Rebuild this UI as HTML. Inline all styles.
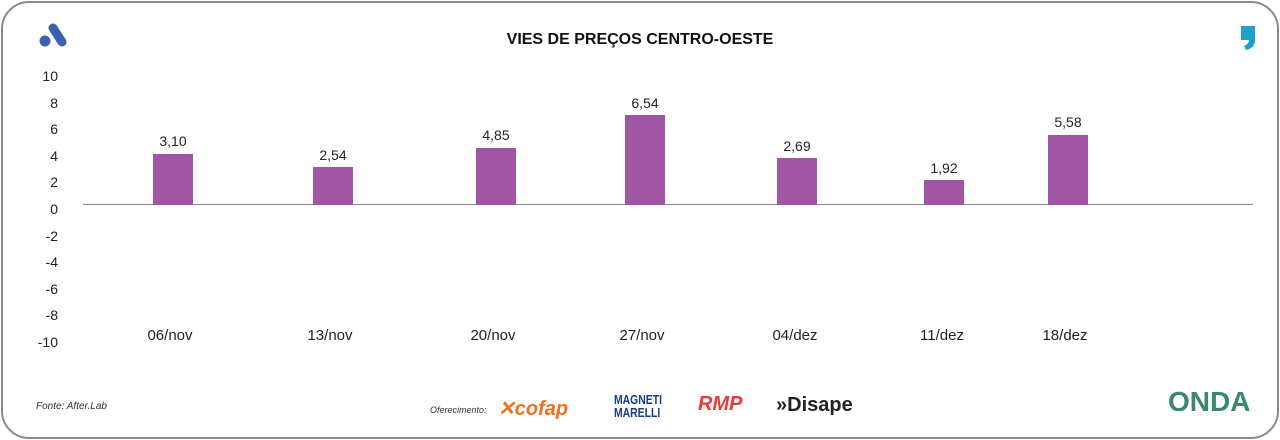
<!DOCTYPE html>
<html><head><meta charset="utf-8"><style>
body{margin:0;width:1280px;height:440px;background:#fff;font-family:"Liberation Sans",sans-serif;overflow:hidden}
.frame{position:absolute;left:1px;top:1px;width:1274px;height:434px;border:2px solid #8a8a8a;border-radius:28px}
.t{position:absolute;white-space:nowrap}
.yl{position:absolute;width:30px;text-align:right;left:28px;font-size:14px;color:#222}
.bar{position:absolute;width:40px;background:#a056a4}
.v{position:absolute;width:80px;text-align:center;font-size:14px;color:#222}
.x{position:absolute;width:100px;text-align:center;font-size:15px;color:#222;top:327px}
</style></head><body>
<div class="frame"></div>
<svg class="t" style="left:36px;top:20px" width="32" height="32"><line x1="17" y1="8" x2="26" y2="22" stroke="#3d5fb0" stroke-width="9" stroke-linecap="round"/><circle cx="9" cy="21" r="5.5" fill="#3d5fb0"/></svg>
<svg class="t" style="left:1238px;top:24px" width="22" height="28"><path d="M3 2h14v14q0 8-9 10l-2-4q5-2 5-6H3z" fill="#1fa0c8"/></svg>
<div class="t" style="left:0;width:1280px;text-align:center;top:31px;font-size:16px;font-weight:bold;color:#111">VIES DE PREÇOS CENTRO-OESTE</div>
<div class="yl" style="top:68px">10</div><div class="yl" style="top:95px">8</div><div class="yl" style="top:121px">6</div><div class="yl" style="top:148px">4</div><div class="yl" style="top:174px">2</div><div class="yl" style="top:201px">0</div><div class="yl" style="top:228px">-2</div><div class="yl" style="top:254px">-4</div><div class="yl" style="top:281px">-6</div><div class="yl" style="top:307px">-8</div><div class="yl" style="top:334px">-10</div>
<div class="t" style="left:83px;top:204px;width:1170px;height:1px;background:#888"></div>
<div class="bar" style="left:153px;top:154px;height:51px"></div><div class="v" style="left:133px;top:133px">3,10</div>
<div class="bar" style="left:313px;top:167px;height:38px"></div><div class="v" style="left:293px;top:147px">2,54</div>
<div class="bar" style="left:476px;top:148px;height:57px"></div><div class="v" style="left:456px;top:127px">4,85</div>
<div class="bar" style="left:625px;top:115px;height:90px"></div><div class="v" style="left:605px;top:95px">6,54</div>
<div class="bar" style="left:777px;top:158px;height:47px"></div><div class="v" style="left:757px;top:138px">2,69</div>
<div class="bar" style="left:924px;top:180px;height:25px"></div><div class="v" style="left:904px;top:160px">1,92</div>
<div class="bar" style="left:1048px;top:135px;height:70px"></div><div class="v" style="left:1028px;top:114px">5,58</div>
<div class="x" style="left:120px">06/nov</div><div class="x" style="left:280px">13/nov</div><div class="x" style="left:443px">20/nov</div><div class="x" style="left:592px">27/nov</div><div class="x" style="left:745px">04/dez</div><div class="x" style="left:892px">11/dez</div><div class="x" style="left:1015px">18/dez</div>
<div class="t" style="left:36px;top:401px;font-size:10px;font-style:italic;color:#333">Fonte: After.Lab</div>
<div class="t" style="left:430px;top:405px;font-size:9px;font-style:italic;color:#333">Oferecimento:</div>
<div class="t" style="left:498px;top:396px;font-size:20px;font-weight:bold;font-style:italic;color:#f07020">✕cofap</div>
<div class="t" style="left:614px;top:393px;font-size:13px;font-weight:bold;color:#1a3a8a;line-height:13px;transform:scaleX(0.8);transform-origin:left">MAGNETI<br>MARELLI</div>
<div class="t" style="left:698px;top:393px;font-size:20px;font-weight:bold;font-style:italic;color:#e8383c">RMP</div>
<div class="t" style="left:776px;top:394px;font-size:20px;font-weight:bold;color:#222">»Disape</div>
<div class="t" style="left:1168px;top:386px;font-size:28px;font-weight:bold;color:#3a8a6a">ONDA</div>
</body></html>
